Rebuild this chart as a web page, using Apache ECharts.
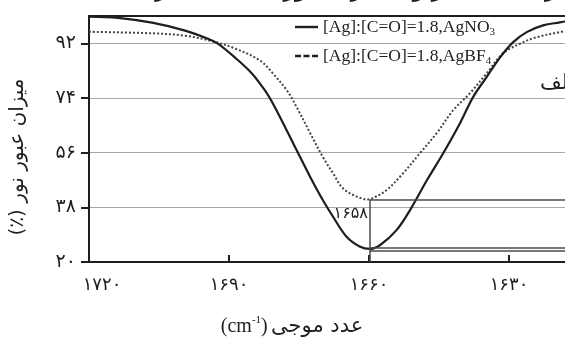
<!DOCTYPE html>
<html>
<head>
<meta charset="utf-8">
<script src="https://cdn.jsdelivr.net/npm/echarts@6/dist/echarts.min.js"></script>
<style>
  html, body { margin: 0; padding: 0; background: #fff; }
  #main { width: 565px; height: 340px; }
</style>
</head>
<body>
<div id="main"></div>
<script>
// wavenumber (cm-1) and transmittance (%)
const no3X = [1720, 1713.8, 1706.5, 1699.4, 1694.5, 1692.4, 1688.7, 1685.1, 1682.3, 1680.6, 1678.4, 1675.5, 1672.6, 1669.9, 1667.7, 1664.8, 1661.9, 1659.8, 1657.6, 1654.1, 1651.2, 1647.6, 1644.1, 1640.5, 1637.7, 1634.8, 1631.9, 1629.1, 1626.2, 1622.7, 1619.1, 1618];
const no3T = [100.8, 100.4, 98.8, 96.2, 93.5, 91.9, 87.3, 82.1, 76.5, 72.2, 65.7, 56.8, 48.0, 40.4, 34.9, 28.3, 25.0, 24.3, 25.6, 30.5, 37.1, 46.9, 55.8, 65.7, 74.3, 80.9, 87.4, 92.4, 95.7, 97.9, 98.9, 99.2];

const bf4X = [1720, 1706.5, 1699.4, 1693.6, 1688.7, 1683.4, 1680.6, 1677.6, 1675.5, 1672.6, 1669.9, 1667.7, 1665.6, 1662.6, 1660.2, 1658.7, 1656.2, 1652.7, 1649.1, 1645.5, 1642.0, 1638.4, 1634.8, 1631.3, 1627.6, 1624.1, 1619.1, 1618];
const bf4T = [95.8, 95.3, 94.5, 92.7, 90.3, 86.4, 82.1, 76.5, 71.0, 62.4, 54.6, 49.2, 44.3, 41.5, 40.6, 41.4, 43.7, 49.2, 55.8, 62.4, 69.9, 75.5, 82.1, 88.7, 91.9, 94.0, 95.7, 96.0];

const xTicks = [1720, 1690, 1660, 1630];
const yTicks = [20, 38, 56, 74, 92];
const xMin = 1618, xMax = 1720;
const yMin = 20, yMax = 101;

const peakLabel = 1658;
const legendNames = ['AgNO3', 'AgBF4'];

// persian digits
function fa(n) {
    return String(n).replace(/\d/g, d => '۰۱۲۳۴۵۶۷۸۹'[d]);
}

function pairs(xs, ys) {
    return xs.map((x, i) => [x, ys[i]]);
}

const no3Min = Math.min(...no3T);
const peakX = no3X[no3T.indexOf(no3Min)];
const bf4Min = Math.min(...bf4T);

const faFont = 'DejaVu Sans';
const serif = 'Liberation Serif';
const ink = '#1e1e1e';
const dotInk = '#444';

// legend keys: a solid bar and three dashes
const solidKey = 'path://M0,0h23v2.4h-23z';
const dashKey = 'path://M0,0h6v2.4h-6z M8.5,0h6v2.4h-6z M17,0h6v2.4h-6z';

const option = {
    animation: false,
    grid: { left: 89, right: 0, top: 16, bottom: 78 },
    legend: {
        left: 295,
        top: 18,
        orient: 'vertical',
        padding: 0,
        itemGap: 9,
        itemWidth: 23,
        itemHeight: 2.4,
        data: [
            { name: legendNames[0], icon: solidKey, itemStyle: { color: ink } },
            { name: legendNames[1], icon: dashKey, itemStyle: { color: ink } }
        ],
        formatter: name => '{t|[Ag]:[C=O]=1.8,' + name.slice(0, -1) + '}{s|' + name.slice(-1) + '}',
        textStyle: {
            rich: {
                t: { fontFamily: serif, fontSize: 17.5, color: ink, lineHeight: 22 },
                s: { fontFamily: serif, fontSize: 11, color: ink, verticalAlign: 'bottom', padding: [2, 0, 0, 0] }
            }
        }
    },
    xAxis: [{
        type: 'value',
        inverse: true,
        min: xMin,
        max: xMax,
        axisLine: { lineStyle: { color: ink, width: 2 } },
        axisTick: { inside: true, length: 7, customValues: xTicks, lineStyle: { color: ink, width: 2 } },
        axisLabel: {
            customValues: xTicks,
            color: ink,
            fontFamily: faFont,
            fontSize: 18,
            margin: 14,
            formatter: v => v === xTicks[0] ? '{first|' + fa(v) + '}' : fa(v),
            rich: { first: { fontFamily: faFont, fontSize: 18, color: ink, padding: [0, 0, 0, 26] } }
        },
        splitLine: { show: false }
    }, {
        type: 'value',
        position: 'top',
        inverse: true,
        min: xMin,
        max: xMax,
        axisLine: { lineStyle: { color: ink, width: 2 } },
        axisTick: { show: false },
        axisLabel: { show: false },
        splitLine: { show: false }
    }],
    yAxis: {
        type: 'value',
        min: yMin,
        max: yMax,
        axisLine: { show: true, lineStyle: { color: ink, width: 2 } },
        axisTick: { show: true, length: 8, customValues: yTicks, lineStyle: { color: ink, width: 2 } },
        axisLabel: {
            customValues: yTicks,
            color: ink,
            fontFamily: faFont,
            fontSize: 19,
            margin: 13,
            formatter: v => fa(v)
        },
        splitLine: { lineStyle: { color: '#a8a8a8', width: 1 } }
    },
    series: [{
        name: legendNames[0],
        type: 'line',
        data: pairs(no3X, no3T),
        symbol: 'none',
        smooth: 0.35,
        color: ink,
        lineStyle: { color: ink, width: 2.2 },
        z: 3
    }, {
        name: legendNames[1],
        type: 'line',
        data: pairs(bf4X, bf4T),
        symbol: 'none',
        smooth: 0.35,
        color: dotInk,
        lineStyle: { color: dotInk, width: 2, type: 'dotted' },
        z: 2,
        markLine: {
            silent: true,
            symbol: 'none',
            label: { show: false },
            lineStyle: { color: '#4a4a4a', width: 1.5, type: 'solid' },
            data: [
                [{ coord: [peakX, bf4Min] }, { coord: [peakX, yMin] }],
                [{ coord: [peakX, bf4Min] }, { coord: [xMin, bf4Min] }],
                [{ coord: [peakX, no3Min + 0.3] }, { coord: [xMin, no3Min + 0.3] }],
                [{ coord: [peakX, no3Min - 0.5] }, { coord: [xMin, no3Min - 0.5] }]
            ]
        },
        markPoint: {
            silent: true,
            symbolSize: 0,
            data: [{ coord: [peakX, 36], value: peakLabel }],
            label: {
                show: true,
                position: 'left',
                distance: 2,
                formatter: p => fa(p.value),
                fontFamily: faFont,
                fontSize: 16,
                color: ink
            }
        }
    }],
    graphic: [{
        type: 'text',
        x: 282,
        y: -10,
        style: {
            text: 'طیف زیر قرمز ترکیب‌های کربونیل در حضور نمک‌های نقره با نسبت یکسان و تغییر میزان',
            align: 'center',
            verticalAlign: 'middle',
            fontFamily: faFont,
            fontSize: 24,
            fill: ink
        }
    }, {
        type: 'text',
        x: 540,
        y: 84,
        style: {
            text: 'الف',
            align: 'left',
            verticalAlign: 'middle',
            fontFamily: faFont,
            fontSize: 21,
            fill: ink
        }
    }, {
        type: 'text',
        x: 292,
        y: 327,
        style: {
            text: '{e|(cm}{sup|-1}{e|)} {f|عدد موجی}',
            align: 'center',
            verticalAlign: 'middle',
            rich: {
                e: { fontFamily: serif, fontSize: 20, fill: ink, lineHeight: 24 },
                sup: { fontFamily: serif, fontSize: 11, fill: ink, verticalAlign: 'top' },
                f: { fontFamily: faFont, fontSize: 21, fill: ink, lineHeight: 24 }
            }
        }
    }, {
        type: 'text',
        x: 18,
        y: 157,
        rotation: Math.PI / 2,
        style: {
            text: '(٪) میزان عبور نور',
            align: 'center',
            verticalAlign: 'middle',
            fontFamily: faFont,
            fontSize: 20,
            fill: ink
        }
    }]
};

let plot = echarts.init(document.querySelector('#main'), null, { renderer: 'canvas' });
plot.setOption(option);
</script>
</body>
</html>
